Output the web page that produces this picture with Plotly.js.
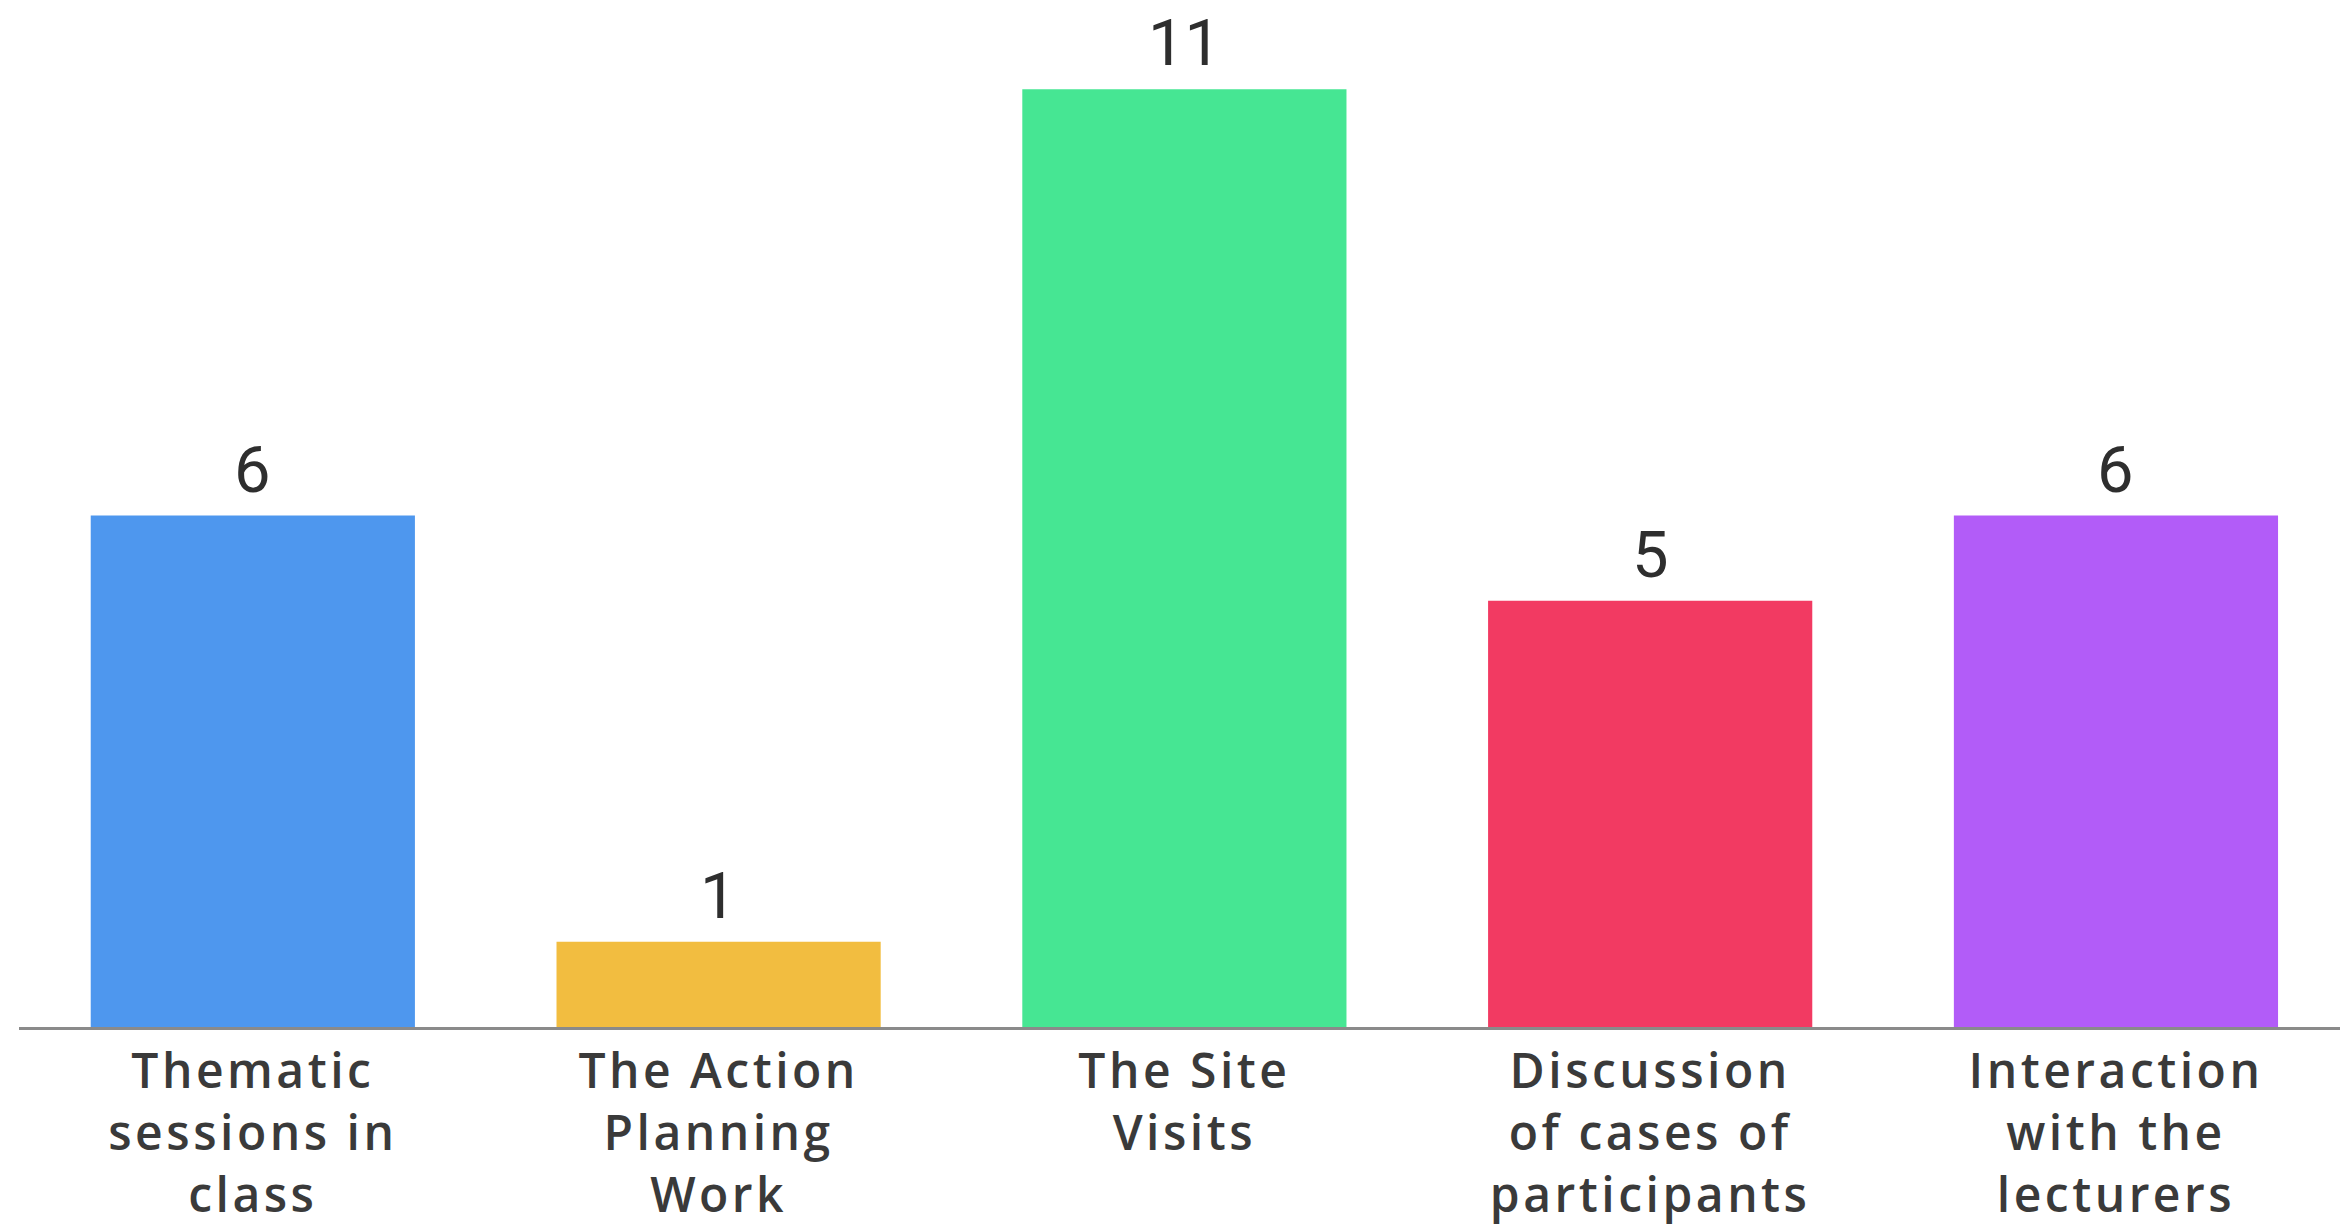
<!DOCTYPE html>
<html>
<head>
<meta charset="utf-8">
<script src="https://cdn.plot.ly/plotly-3.0.1.min.js"></script>
<style>
html,body{margin:0;padding:0;background:#fff;}
#chart{width:2340px;height:1226px;}
#chart .xtick text{letter-spacing:3.5px;}
</style>
</head>
<body>
<div id="chart"></div>
<script>
const categories = [
  "Thematic<br>sessions in<br>class",
  "The Action<br>Planning<br>Work",
  "The Site<br>Visits",
  "Discussion<br>of cases of<br>participants",
  "Interaction<br>with the<br>lecturers"
];
const values = [6, 1, 11, 5, 6];
const colors = ["#4E97EE", "#F2BD40", "#46E693", "#F23A62", "#B25CF8"];

const trace = {
  type: "bar",
  x: categories,
  y: values,
  marker: {color: colors, line: {width: 0}},
  hoverinfo: "none"
};

const annotations = categories.map((c, i) => ({
  x: c, y: values[i], xref: "x", yref: "y",
  text: String(values[i]),
  showarrow: false, yanchor: "bottom", yshift: 6,
  font: {family: "Roboto, sans-serif", size: 65, weight: 400, color: "#2e2e2e"}
}));

const layout = {
  width: 2340, height: 1226,
  margin: {l: 19, r: 0, t: 4, b: 199},
  paper_bgcolor: "#ffffff", plot_bgcolor: "#ffffff",
  bargap: 0.304,
  showlegend: false,
  xaxis: {
    range: [-0.502, 4.481],
    showline: true, linecolor: "#8a8a8a", linewidth: 3,
    ticks: "", showgrid: false, zeroline: false,
    tickfont: {family: "Open Sans, sans-serif", size: 48, weight: 600, color: "#3a3a3a"},
    ticklabelstandoff: 0,
    fixedrange: true
  },
  yaxis: {
    range: [0, 12], visible: false, showgrid: false, zeroline: false, fixedrange: true
  },
  annotations: annotations
};

Plotly.newPlot("chart", [trace], layout, {displayModeBar: false, staticPlot: true});
</script>
</body>
</html>
